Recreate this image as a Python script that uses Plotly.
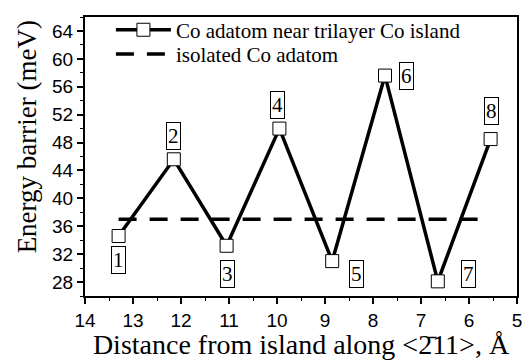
import plotly.graph_objects as go

dist = [13.3, 12.15, 11.05, 9.95, 8.85, 7.75, 6.65, 5.55]
barrier = [34.6, 45.6, 33.2, 50.0, 31.0, 57.6, 28.1, 48.5]
iso_x = [13.3, 5.55]
iso_y = [37.0, 37.0]
label_text = ["1", "2", "3", "4", "5", "6", "7", "8"]
label_x = [13.3, 12.15, 11.03, 9.98, 8.35, 7.3, 6.02, 5.53]
label_y = [31.2, 48.9, 29.1, 53.4, 29.1, 57.6, 29.1, 52.5]
x_ticks = [14, 13, 12, 11, 10, 9, 8, 7, 6, 5]
y_ticks = [28, 32, 36, 40, 44, 48, 52, 56, 60, 64]

serif = "Liberation Serif, Times New Roman, serif"
sans = "Liberation Sans, Arial, sans-serif"

fig = go.Figure()
fig.add_trace(go.Scatter(
    x=dist, y=barrier, mode="lines+markers",
    name="Co adatom near trilayer Co island", legend="legend",
    line=dict(color="black", width=3.5),
    marker=dict(symbol="square", size=13, color="white",
                line=dict(color="black", width=1)),
))
fig.add_trace(go.Scatter(
    x=iso_x, y=iso_y, mode="lines", name="isolated Co adatom", legend="legend2",
    line=dict(color="black", width=3.5, dash="18px,13px"),
))
for t, lx, ly in zip(label_text, label_x, label_y):
    fig.add_annotation(x=lx, y=ly, text=t, showarrow=False,
                       font=dict(family=serif, size=21, color="black"),
                       bordercolor="black", borderwidth=1, borderpad=1,
                       bgcolor="white")

fig.add_annotation(xref="paper", yref="paper", x=-0.135, y=0.571,
                   text="Energy barrier (meV)", textangle=-90, showarrow=False,
                   xanchor="center", yanchor="middle",
                   font=dict(family=serif, size=27, color="black"))

leg_common = dict(xanchor="left", yanchor="middle", bgcolor="rgba(0,0,0,0)",
                  font=dict(family=serif, size=21, color="black"), itemwidth=55)
fig.update_layout(
    width=532, height=360,
    margin=dict(l=85, r=11, t=10, b=63),
    paper_bgcolor="white", plot_bgcolor="white",
    showlegend=True,
    legend=dict(x=0.06, y=0.953, **leg_common),
    legend2=dict(x=0.06, y=0.866, **leg_common),
)
fig.update_xaxes(
    range=[14, 5], tickvals=x_ticks, ticktext=[str(v) for v in x_ticks],
    showline=True, linecolor="black", linewidth=2, mirror=True,
    ticks="outside", ticklen=6, tickwidth=1.5, tickcolor="black",
    minor=dict(dtick=0.5, ticks="outside", ticklen=3, tickcolor="black", tickwidth=1),
    showgrid=False, zeroline=False,
    tickfont=dict(family=sans, size=19, color="black"),
    title=dict(text="Distance from island along &lt;2\u030411&gt;, Å",
               font=dict(family=serif, size=28, color="black"), standoff=0),
)
fig.update_yaxes(
    range=[26, 66], tickvals=y_ticks, ticktext=[str(v) for v in y_ticks],
    showline=True, linecolor="black", linewidth=2, mirror=True,
    ticks="outside", ticklen=6, tickwidth=1.5, tickcolor="black",
    minor=dict(dtick=2, tick0=26, ticks="outside", ticklen=3, tickcolor="black", tickwidth=1),
    showgrid=False, zeroline=False,
    tickfont=dict(family=sans, size=19, color="black"),
)
fig.write_html("out.html")
